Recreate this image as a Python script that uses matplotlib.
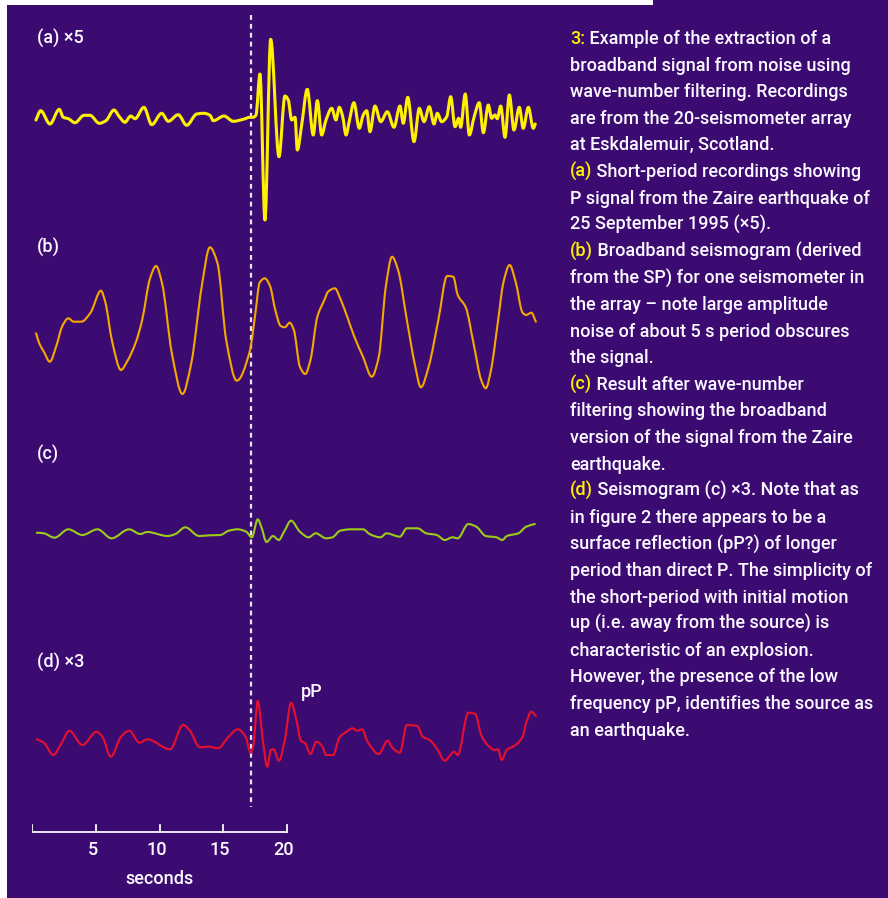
import matplotlib
matplotlib.use("Agg")
import matplotlib.pyplot as plt
from matplotlib.patches import Rectangle, PathPatch
from matplotlib.path import Path

plt.rcParams['font.family'] = ['Roboto', 'DejaVu Sans']
plt.rcParams['font.weight'] = 'medium'

# ---- data (time in s, amplitude in arbitrary units) ----
t_a = [0.31, 0.68, 1.41, 2.14, 2.45, 2.85, 3.37, 4.08, 4.55, 5.28, 5.80, 6.43, 6.85, 7.29,
       7.74, 8.08, 8.78, 9.39, 10.17, 10.69, 11.47, 12.13, 12.92, 13.49, 13.96, 14.22, 15.06,
       15.79, 16.57, 17.10, 17.36, 17.57, 17.88, 18.27, 18.72, 19.37, 19.84, 20.10, 20.37,
       20.63, 20.81, 21.15, 21.59, 22.06, 22.38, 22.72, 23.06, 23.51, 23.84, 24.10, 24.37,
       24.63, 24.89, 25.25, 25.67, 25.98, 26.25, 26.51, 26.90, 27.35, 27.87, 28.39, 28.86,
       29.12, 29.47, 29.96, 30.38, 30.75, 31.16, 31.53, 31.79, 32.13, 32.53, 32.84, 33.18,
       33.47, 33.62, 33.98, 34.30, 34.67, 35.08, 35.40, 35.79, 36.05, 36.31, 36.49, 36.76,
       37.10, 37.44, 37.80, 38.22, 38.53, 38.93, 39.32, 39.47]
amp_a = [-0.3, 0.63, -0.7, 0.77, -0.03, -0.17, -0.57, 0.17, 0.17, -0.63, -0.37, 0.7, 0.03, -0.53,
         0.1, -0.17, 0.97, -0.77, 0.37, -0.43, 0.23, -0.83, 0.3, 0.37, 0.17, -0.37, 0.1,
         -0.43, -0.23, -0.03, -0.03, 0.2, 4.3, -10.3, 7.77, -3.97, 2.1, 1.7, -0.3,
         -0.03, -3.3, -0.8, 2.77, -1.8, 1.63, -1.8, -0.3, 0.87, -0.3, 0.97, 0.03,
         -1.8, -0.37, 1.43, -1.13, 0.2, 0.63, -1.47, 1.1, -0.47, 0.53, -1.03, 1.1,
         -0.63, 1.97, -2.47, 0.87, -0.47, 1.03, -0.7, 0.37, -0.47, 0.03, 2.03, -0.97,
         -0.13, -1.03, 2.3, -1.8, -0.03, 1.43, -1.57, 1.2, -0.13, 0.2, -0.17, 1.1,
         -2.03, 2.2, -1.3, 0.97, -1.13, 0.97, -1.13, -0.7]

t_b = [0.32, 0.57, 0.93, 1.40, 1.89, 2.38, 2.85, 3.27, 3.87, 4.59, 5.41, 5.74, 6.29, 6.98,
       7.45, 8.16, 8.64, 9.26, 9.73, 10.20, 10.97, 11.80, 12.49, 13.31, 13.95, 14.55, 15.23,
       16.06, 17.07, 17.52, 17.85, 18.26, 18.67, 19.08, 19.50, 19.83, 20.21, 20.54, 21.01,
       21.43, 21.84, 22.38, 22.93, 23.22, 23.76, 24.17, 24.72, 25.28, 25.96, 26.65, 27.20,
       27.75, 28.24, 28.71, 29.40, 30.01, 30.50, 31.11, 31.87, 32.56, 33.04, 33.39, 34.02,
       34.63, 35.23, 35.59, 36.00, 36.56, 36.96, 37.46, 37.93, 38.48, 38.75, 39.17, 39.52]
amp_b = [-1.33, -2.33, -3.17, -4.17, -2.67, -0.6, 0.17, -0.17, -0.17, 0.73, 2.93, 1.83, -2.17, -5.0,
         -4.17, -2.17, 0.0, 4.17, 5.4, 3.67, -3.33, -7.4, -4.33, 3.33, 7.27, 5.67, -2.0,
         -6.07, -3.17, 0.67, 3.73, 4.17, 3.4, 1.0, -0.6, -0.73, -0.27, -1.0, -4.67,
         -5.4, -4.0, 0.33, 2.0, 2.83, 3.17, 2.17, 0.33, -1.67, -3.67, -5.67, -3.67,
         3.33, 6.33, 5.0, 0.0, -4.33, -6.73, -4.67, 0.0, 4.4, 4.33, 2.5, 1.27,
         -2.33, -6.0, -6.83, -5.0, 0.0, 3.67, 5.5, 3.83, 0.73, 0.5, 0.73, -0.17]

t_c = [0.38, 0.93, 1.76, 2.85, 3.95, 5.14, 6.24, 7.62, 8.49, 9.04, 10.64, 11.25, 12.02, 13.11,
       13.95, 14.77, 15.43, 16.14, 16.80, 17.24, 17.71, 17.98, 18.40, 18.89, 19.36, 19.77,
       20.32, 21.01, 21.70, 22.25, 23.07, 23.57, 24.17, 25.00, 25.96, 26.51, 27.34, 27.80,
       28.85, 29.40, 30.23, 30.92, 31.74, 32.38, 32.98, 33.39, 34.22, 34.85, 35.59, 36.42,
       36.89, 37.24, 38.15, 38.75, 39.44]
amp_c = [0.03, -0.03, -0.47, 0.37, -0.2, 0.37, -0.53, 0.37, -0.1, 0.1, -0.3, -0.1, 0.57, -0.3,
         -0.23, -0.2, 0.23, 0.37, 0.13, -0.43, 1.37, 0.63, -0.9, -0.3, -0.7, 0.13,
         1.23, 0.13, -0.43, -0.03, -0.53, -0.43, 0.23, 0.37, 0.37, -0.13, -0.43, -0.03,
         -0.37, 0.47, 0.47, -0.03, -0.2, -0.7, -0.43, -0.53, 0.9, 0.63, -0.3, -0.43,
         -0.7, -0.3, -0.03, 0.63, 0.9]

t_d = [0.38, 0.93, 1.67, 2.31, 2.93, 3.95, 5.06, 5.52, 6.18, 6.98, 7.62, 8.44, 9.04, 10.83,
       11.85, 12.35, 13.17, 13.86, 14.60, 15.32, 16.14, 16.75, 17.16, 17.35, 17.71, 18.07,
       18.45, 18.73, 18.95, 19.36, 19.83, 20.32, 20.74, 21.09, 21.43, 21.84, 22.31, 22.75,
       23.07, 23.62, 24.12, 24.67, 25.14, 25.50, 25.88, 26.32, 27.20, 27.89, 28.24, 28.85,
       29.40, 30.23, 30.64, 31.19, 31.74, 32.38, 32.71, 33.11, 33.39, 34.22, 34.77, 35.23,
       35.87, 36.28, 36.56, 36.83, 37.24, 37.93, 38.48, 38.75, 39.17, 39.52]
amp_d = [0.07, -0.27, -1.5, -0.33, 0.93, -0.5, 0.83, 0.33, -1.67, 0.33, 0.93, -0.27, 0.07, -0.93,
         1.5, 1.0, -0.73, -0.67, -0.83, 0.17, 1.07, 0.33, -1.27, -0.6, 3.93, 0.33,
         -2.67, -1.0, -0.93, -2.07, 0.0, 3.73, 2.0, -0.07, -0.33, -1.4, -0.17, -0.6,
         -1.5, -1.5, 0.27, 0.83, 1.17, 0.93, 1.07, -0.17, -1.4, -0.07, -0.73, -1.27,
         1.5, 1.4, 0.33, 0.0, -0.83, -2.07, -1.67, -1.17, -1.5, 2.73, 2.6, 0.5,
         -0.67, -1.0, -0.93, -2.0, -1.0, -0.5, 0.33, 1.67, 2.83, 2.4]

p_onset = 17.2
scale_ticks = [0, 5, 10, 15, 20]
scale_labels = ['', '5', '10', '15', '20']
panel_labels = ['(a) \u00d75', '(b)', '(c)', '(d) \u00d73']

caption = [
    ('3:', 'Example of the extraction of a'),
    ('', 'broadband signal from noise using'),
    ('', 'wave-number filtering. Recordings'),
    ('', 'are from the 20-seismometer array'),
    ('', 'at Eskdalemuir, Scotland.'),
    ('(a)', 'Short-period recordings showing'),
    ('', 'P signal from the Zaire earthquake of'),
    ('', '25 September 1995 (\u00d75).'),
    ('(b)', 'Broadband seismogram (derived'),
    ('', 'from the SP) for one seismometer in'),
    ('', 'the array \u2013 note large amplitude'),
    ('', 'noise of about 5 s period obscures'),
    ('', 'the signal.'),
    ('(c)', 'Result after wave-number'),
    ('', 'filtering showing the broadband'),
    ('', 'version of the signal from the Zaire'),
    ('', 'earthquake.'),
    ('(d)', 'Seismogram (c) \u00d73. Note that as'),
    ('', 'in figure 2 there appears to be a'),
    ('', 'surface reflection (pP?) of longer'),
    ('', 'period than direct P. The simplicity of'),
    ('', 'the short-period with initial motion'),
    ('', 'up (i.e. away from the source) is'),
    ('', 'characteristic of an explosion.'),
    ('', 'However, the presence of the low'),
    ('', 'frequency pP, identifies the source as'),
    ('', 'an earthquake.'),
]

BG = '#3c0b72'
YELLOW = '#fff200'
TXT = '#fbf8ff'
W, H = 888, 898
FS = 13

fig = plt.figure(figsize=(W / 100, H / 100), dpi=100, facecolor='white')
fig.patches.append(Rectangle((7 / W, 0), 1 - 7 / W, 1 - 5 / H, transform=fig.transFigure,
                             facecolor=BG, edgecolor='none', zorder=-10))
fig.patches.append(Rectangle((653 / W, 1 - 5 / H), 1 - 653 / W, 5 / H, transform=fig.transFigure,
                             facecolor=BG, edgecolor='none', zorder=-10))


def px_axes(left, top, width, height):
    ax = fig.add_axes([left / W, 1 - (top + height) / H, width / W, height / H])
    ax.set_facecolor('none')
    ax.axis('off')
    return ax


def smooth_trace(x, y):
    n = len(x)
    h = [x[i + 1] - x[i] for i in range(n - 1)]
    d = [(y[i + 1] - y[i]) / h[i] for i in range(n - 1)]
    m = [d[0]] + [0.0] * (n - 2) + [d[-1]]
    for i in range(1, n - 1):
        if d[i - 1] * d[i] > 0:
            w1 = 2 * h[i] + h[i - 1]
            w2 = h[i] + 2 * h[i - 1]
            m[i] = (w1 + w2) / (w1 / d[i - 1] + w2 / d[i])
    verts = [(x[0], y[0])]
    codes = [Path.MOVETO]
    for i in range(n - 1):
        verts += [(x[i] + h[i] / 3, y[i] + m[i] * h[i] / 3),
                  (x[i + 1] - h[i] / 3, y[i + 1] - m[i + 1] * h[i] / 3),
                  (x[i + 1], y[i + 1])]
        codes += [Path.CURVE4] * 3
    return Path(verts, codes)


# overlay axes: x in seconds, y in pixel rows (layout only)
ax0 = px_axes(32, 0, 510, H)
ax0.set_xlim(0, 40)
ax0.set_ylim(H, 0)

traces = [
    (t_a, amp_a, '#fff000', 2.2, 117),
    (t_b, amp_b, '#f6a800', 1.5, 320),
    (t_c, amp_c, '#9ccc1a', 1.5, 533),
    (t_d, amp_d, '#e6102c', 1.5, 740),
]
for t, amp, col, lw, base in traces:
    ax = px_axes(32, base - 120, 510, 240)
    ax.set_xlim(0, 40)
    ax.set_ylim(-12, 12)
    ax.add_patch(PathPatch(smooth_trace(t, amp), facecolor='none', edgecolor=col, lw=lw,
                           joinstyle='round', capstyle='round'))

# P onset marker
ax0.plot([p_onset, p_onset], [15, 807], color='#e8e4f0', lw=1.6, dashes=(2.2, 1.8))

# time scale
ax0.plot([scale_ticks[0], scale_ticks[-1]], [832, 832], color=TXT, lw=1.3)
for tk, lab in zip(scale_ticks, scale_labels):
    ax0.plot([tk, tk], [832, 825], color=TXT, lw=1.3)
    ax0.text(tk - 0.25, 855, lab, color=TXT, fontsize=FS, ha='center', va='baseline')
ax0.text(10, 884, 'seconds', color=TXT, fontsize=FS, ha='center', va='baseline')

# panel labels
for lab, yb in zip(panel_labels, [44, 253, 460, 668]):
    fig.text(37 / W, 1 - yb / H, lab, color=TXT, fontsize=FS, va='baseline')
fig.text(301 / W, 1 - 697 / H, 'pP', color=TXT, fontsize=FS, va='baseline')

# caption
renderer = fig.canvas.get_renderer()
for i, (pre, rest) in enumerate(caption):
    yb = 1 - (44 + 26.6 * i) / H
    x = 570 / W
    if pre:
        tp = fig.text(x, yb, pre, color=YELLOW, fontsize=FS, va='baseline')
        x = tp.get_window_extent(renderer).x1 / W
        rest = ' ' + rest
    fig.text(x, yb, rest, color=TXT, fontsize=FS, va='baseline')

fig.savefig('out.png', dpi=100, facecolor=fig.get_facecolor())
